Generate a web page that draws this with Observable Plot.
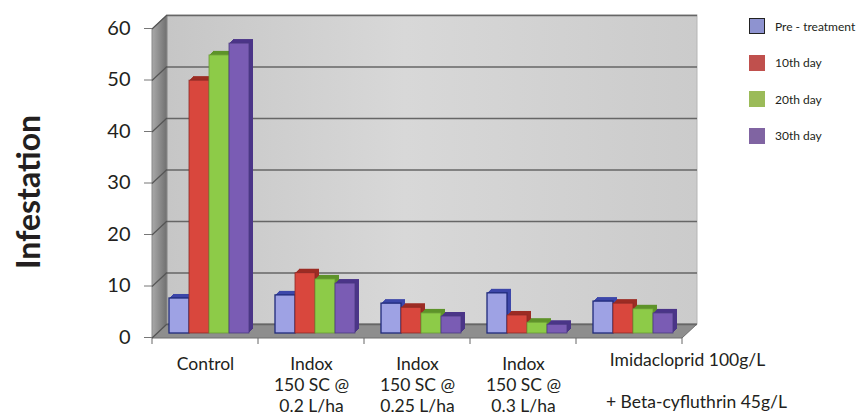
<!DOCTYPE html>
<html><head><meta charset="utf-8">
<script src="https://cdn.jsdelivr.net/npm/d3@7"></script>
<script src="https://cdn.jsdelivr.net/npm/@observablehq/plot@0.6"></script>
<style>
body{margin:0;background:#fff;}
#wrap{position:relative;width:868px;height:415px;overflow:hidden;font-family:Lato,sans-serif;color:#231f20;}
#chart{position:absolute;left:0;top:0;}
#title{position:absolute;left:27px;top:192px;transform:translate(-50%,-50%) rotate(-90deg);font-family:Lato,sans-serif;font-weight:bold;font-size:32px;white-space:nowrap;color:#231f20;}
#legend{position:absolute;left:749px;top:18px;}
.item{position:absolute;left:0;display:flex;align-items:center;height:16px;white-space:nowrap;font-size:12px;color:#231f20;}
.sw{width:16px;height:16px;margin-right:10px;box-sizing:border-box;}
</style></head>
<body><div id="wrap"><div id="chart"></div><div id="title">Infestation</div><div id="legend"></div></div>
<script>
// ---- data ----
const categories = ["Control", "Indox 0.2", "Indox 0.25", "Indox 0.3", "Imidacloprid"];
const tickLabels = ["Control", "Indox\n150 SC @\n0.2 L/ha", "Indox\n150 SC @\n0.25 L/ha", "Indox\n150 SC @\n0.3 L/ha", "Imidacloprid 100g/L\n\n\u00a0\u00a0\u00a0\u00a0+ Beta-cyfluthrin 45g/L"];
const seriesNames = ["Pre - treatment", "10th day", "20th day", "30th day"];
const preTreatment = [6.8, 7.4, 5.8, 7.8, 6.2];
const day10 = [49.1, 11.7, 5.0, 3.5, 5.8];
const day20 = [54.0, 10.5, 3.9, 2.1, 4.7];
const day30 = [56.3, 9.7, 3.3, 1.7, 3.9];
const yTicks = [0, 10, 20, 30, 40, 50, 60];

// ---- styles ----
const frontColors = ["#9ea2e4", "#d9473d", "#8dcb48", "#7a5cb4"];
const sideColors = ["#3d47aa", "#9c2c24", "#5e932a", "#4b3588"];
const strokeColors = ["#1f2a7a", "#8a2a26", "#6a9a35", "#4a3a80"];
const legendColors = ["#8e93d0", "#c0504d", "#9bbb59", "#8064a2"];

const seriesValues = [preTreatment, day10, day20, day30];
const data = categories.flatMap((c, i) => seriesValues.map((vals, s) => ({category: c, series: seriesNames[s], value: vals[i]})));

const W = 868, H = 415, mL = 152, mR = 186, mT = 29, mB = 77;
const DX = 15, DY = 14;      // wall depth offset
const BX = 5, BY = 5;        // bar position offset within depth
const BD = 4;                // bar depth (px)
const step = (W - mL - mR) / categories.length;
const bw = 20, gap0 = 12;
const yMax = yTicks[yTicks.length - 1];

const background = (index, scales, values, dims) => {
  const y = scales.y;
  const g = d3.create("svg:g");
  const defs = g.append("defs");
  const wg = defs.append("linearGradient").attr("id", "wallGrad").attr("x1", 0).attr("x2", 1).attr("y1", 0).attr("y2", 0);
  wg.append("stop").attr("offset", "0%").attr("stop-color", "#c6c6c6");
  wg.append("stop").attr("offset", "45%").attr("stop-color", "#d8d8d8");
  wg.append("stop").attr("offset", "100%").attr("stop-color", "#cbcbcb");
  const lg = defs.append("linearGradient").attr("id", "leftGrad").attr("x1", 0).attr("x2", 1).attr("y1", 0).attr("y2", 0);
  lg.append("stop").attr("offset", "0%").attr("stop-color", "#a9a9a9");
  lg.append("stop").attr("offset", "100%").attr("stop-color", "#6f6f6f");
  const x0 = dims.marginLeft, x1 = dims.width - dims.marginRight;
  const y0 = y(0), y1 = y(yMax);
  g.append("rect").attr("x", x0 + DX).attr("y", y1 - DY).attr("width", x1 - x0).attr("height", y0 - y1)
    .attr("fill", "url(#wallGrad)").attr("stroke", "#b5b5b5");
  g.append("path").attr("d", `M${x0},${y0}L${x0},${y1}L${x0 + DX},${y1 - DY}L${x0 + DX},${y0 - DY}Z`)
    .attr("fill", "url(#leftGrad)").attr("stroke", "#8a8a8a");
  g.append("path").attr("d", `M${x0},${y0}L${x1},${y0}L${x1 + DX},${y0 - DY}L${x0 + DX},${y0 - DY}Z`)
    .attr("fill", "#8e8e8e").attr("stroke", "#6e6e6e");
  return g.node();
};

const leftDiagonals = (index, scales, values, dims) => {
  const y = scales.y;
  const g = d3.create("svg:g").attr("stroke", "#555").attr("stroke-width", 1.2);
  const x0 = dims.marginLeft;
  for (const t of yTicks) {
    g.append("line").attr("x1", x0).attr("y1", y(t)).attr("x2", x0 + DX).attr("y2", y(t) - DY);
  }
  const y0 = y(0);
  for (let k = 0; k <= categories.length; k++) {
    const xx = x0 + k * step;
    g.append("line").attr("x1", xx).attr("y1", y0).attr("x2", xx).attr("y2", y0 + 6).attr("stroke", "#666").attr("stroke-width", 1);
  }
  return g.node();
};

const barMarks = [];
seriesNames.forEach((name, s) => {
  const rows = data.filter(d => d.series === name);
  const insetLeft = gap0 + s * bw;
  const insetRight = step - gap0 - (s + 1) * bw;
  for (let k = BD; k >= 1; k--) {
    barMarks.push(Plot.barY(rows, {x: "category", y: "value", fill: sideColors[s], insetLeft, insetRight, dx: BX + k, dy: -(BY + k)}));
  }
  barMarks.push(Plot.barY(rows, {x: "category", y: "value", fill: frontColors[s], stroke: strokeColors[s], strokeWidth: s === 0 ? 1.3 : 0.8, insetLeft, insetRight, dx: BX, dy: -BY}));
});

const labelOf = c => tickLabels[categories.indexOf(c)];

const chart = Plot.plot({
  width: W, height: H,
  marginLeft: mL, marginRight: mR, marginTop: mT, marginBottom: mB,
  style: {fontFamily: "Lato, sans-serif", color: "#231f20", background: "transparent", overflow: "visible"},
  x: {domain: categories, padding: 0, label: null},
  y: {domain: [0, yMax], label: null},
  marks: [
    background,
    Plot.ruleY(yTicks, {dx: DX, dy: -DY, stroke: "#666", strokeWidth: 1.7}),
    leftDiagonals,
    ...barMarks,
    Plot.axisY({ticks: yTicks, tickSize: 8, tickPadding: 14, fontSize: 20, stroke: "#777", label: null, dy: -1}),
    Plot.axisX({ticks: categories.slice(0, 4), tickSize: 0, tickPadding: 17, fontSize: 17.5, lineHeight: 1.2, tickFormat: labelOf, label: null}),
    Plot.axisX({ticks: categories.slice(4), tickSize: 0, tickPadding: 13, fontSize: 17.5, lineHeight: 1.2, tickFormat: labelOf, label: null, dx: 58})
  ]
});
document.getElementById("chart").appendChild(chart);

// legend
const legend = document.getElementById("legend");
seriesNames.forEach((name, s) => {
  const item = document.createElement("div");
  item.className = "item";
  item.style.top = (s * 36.5) + "px";
  const sw = document.createElement("div");
  sw.className = "sw";
  sw.style.background = legendColors[s];
  if (s === 0) sw.style.border = "1.5px solid #222";
  item.appendChild(sw);
  const t = document.createElement("span");
  t.textContent = name;
  item.appendChild(t);
  legend.appendChild(item);
});
</script>
</body></html>
